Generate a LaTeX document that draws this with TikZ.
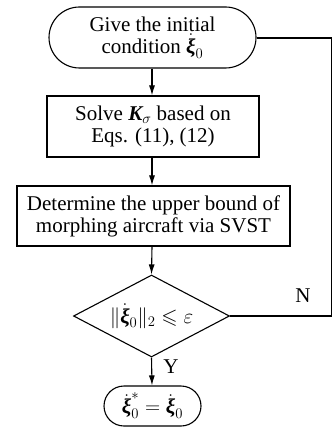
\RequirePackage{fix-cm}
\documentclass[tikz,border=0pt]{standalone}
\usepackage{amsmath,amssymb}
\usepackage{fontspec}
\setmainfont{Liberation Serif}
\usetikzlibrary{shapes.misc,shapes.geometric,arrows.meta}
\newcommand{\xid}{\dot{\text{\bfseries\itshape ξ}}}
\newcommand{\Kb}{\text{\bfseries\itshape K}}
\tikzset{
  base/.style={draw, line width=1.1pt, align=center, inner sep=2pt,
    font=\fontsize{21}{22}\selectfont},
  term/.style={base, rounded rectangle},
  proc/.style={base, rectangle},
  dec/.style={base, diamond, inner sep=0pt},
  conn/.style={line width=1.1pt},
  arr/.style={conn, -{Latex[length=10pt,width=6pt]}},
  lab/.style={font=\fontsize{21}{22}\selectfont, inner sep=0pt}
}
\begin{document}
\begin{tikzpicture}[x=1pt,y=1pt]
\useasboundingbox (0,0) rectangle (333,-427);
\node[term, minimum width=211pt, minimum height=61pt] (start) at (152.5,-37.5)
  {Give the initial\\condition $\xid_{0}$};
\node[proc, minimum width=212pt, minimum height=61pt] (solve) at (153,-126.5)
  {Solve $\Kb_{\sigma}$ based on\\Eqs. (11), (12)};
\node[proc, minimum width=273pt, minimum height=60pt] (det) at (153.5,-216)
  {Determine the upper bound of\\morphing aircraft via SVST};
\node[dec, minimum width=156pt, minimum height=82pt, aspect=1.9] (test) at (151.5,-316)
  {$\|\xid_{0}\|_{2}\leqslant\varepsilon$};
\node[term, minimum width=101pt, minimum height=40pt] (stop) at (152.5,-406)
  {$\xid_{0}^{*}=\xid_{0}$};
\coordinate (c1) at (331.5,-316);
\coordinate (c2) at (331.5,-38);
\draw[arr] (start.south -| 152,0) -- (solve.north -| 152,0);
\draw[arr] (solve.south -| 152,0) -- (det.north -| 152,0);
\draw[arr] (det.south -| 152,0) -- (test.north);
\draw[arr] (test.south) -- (stop.north -| 152,0);
\draw[conn] (test.east) -- (c1) -- (c2) -- (start.east |- c2);
\node[lab] (ylab) at (171,-367) {Y};
\node[lab] (nlab) at (303,-296) {N};
\end{tikzpicture}
\end{document}
